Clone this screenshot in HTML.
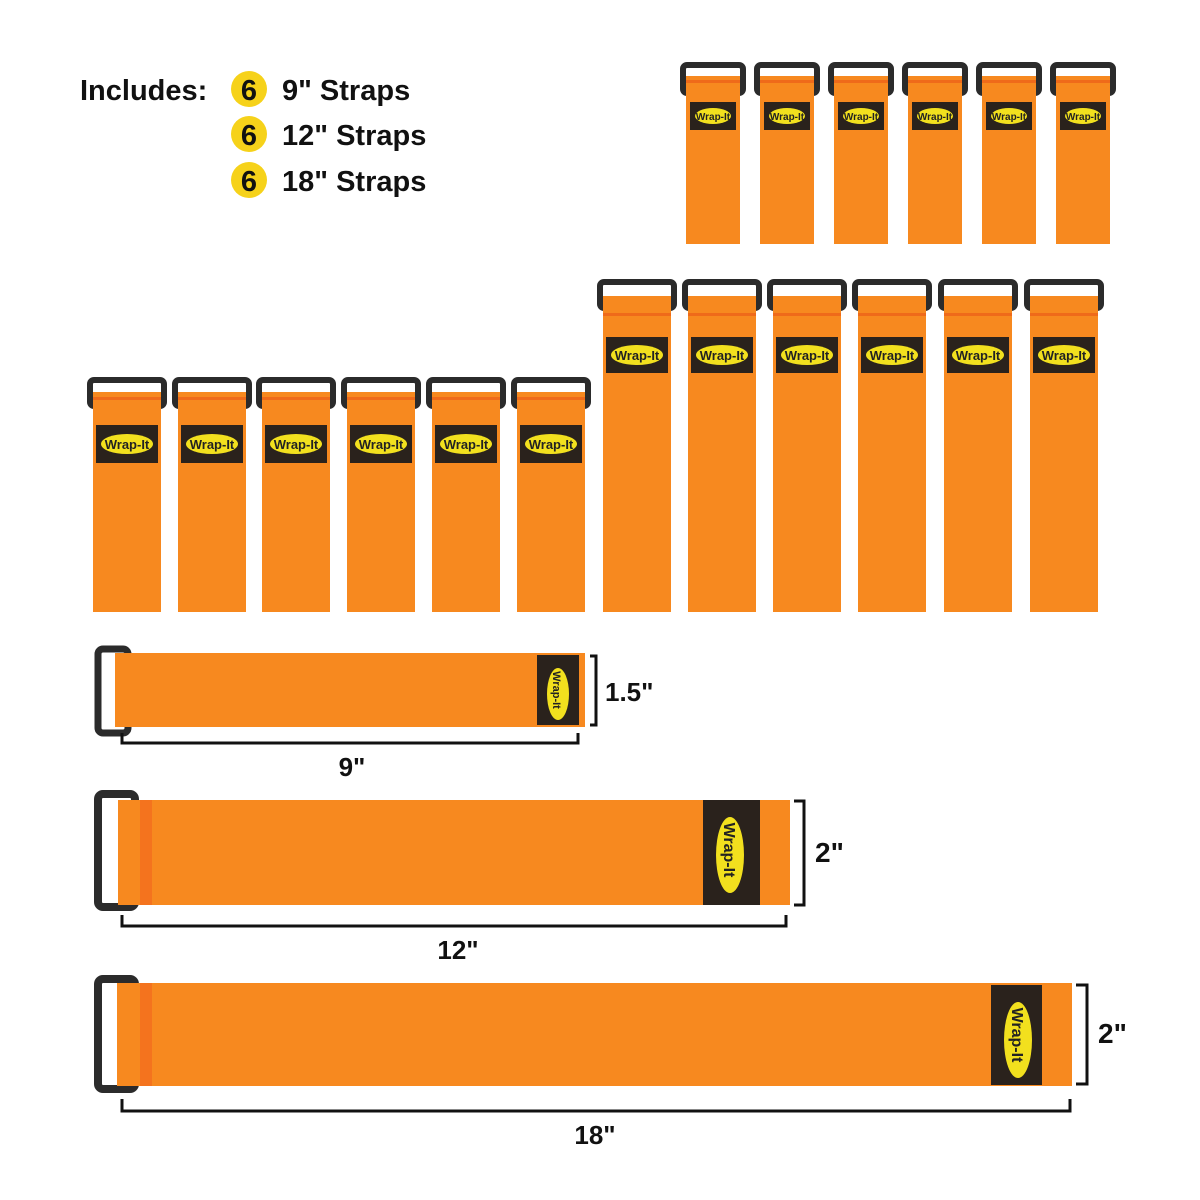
<!DOCTYPE html>
<html><head><meta charset="utf-8"><style>
html,body{margin:0;padding:0;background:#fff}
svg{display:block}
text{font-family:"Liberation Sans",Arial,sans-serif;font-weight:bold}
</style></head><body>
<svg width="1200" height="1200" viewBox="0 0 1200 1200" xmlns="http://www.w3.org/2000/svg">
<rect width="1200" height="1200" fill="#fff"/>
<!-- header -->
<text x="80" y="100" font-size="29" fill="#111">Includes:</text>
<circle cx="249" cy="89" r="18" fill="#f6d21a"/><text x="249" y="100" font-size="29" fill="#111" text-anchor="middle">6</text>
<circle cx="249" cy="134" r="18" fill="#f6d21a"/><text x="249" y="145" font-size="29" fill="#111" text-anchor="middle">6</text>
<circle cx="249" cy="180" r="18" fill="#f6d21a"/><text x="249" y="191" font-size="29" fill="#111" text-anchor="middle">6</text>
<text x="282" y="100" font-size="29" fill="#111">9" Straps</text>
<text x="282" y="145" font-size="29" fill="#111">12" Straps</text>
<text x="282" y="191" font-size="29" fill="#111">18" Straps</text>

<!-- top row small straps -->
<g id="top">
<g transform="translate(686,0)"><rect x="-3" y="65" width="60" height="28" rx="4" fill="none" stroke="#2b2b2b" stroke-width="6"/><rect x="0" y="76" width="54" height="168" fill="#f7891f"/><rect x="0" y="80" width="54" height="3" fill="#ef6a1a"/><rect x="4" y="102" width="46" height="28" fill="#2a221c"/><ellipse cx="27" cy="116" rx="18" ry="8" fill="#f2e01e"/><text x="27" y="120" font-size="10" text-anchor="middle" fill="#222">Wrap-It</text></g>
<g transform="translate(760,0)"><rect x="-3" y="65" width="60" height="28" rx="4" fill="none" stroke="#2b2b2b" stroke-width="6"/><rect x="0" y="76" width="54" height="168" fill="#f7891f"/><rect x="0" y="80" width="54" height="3" fill="#ef6a1a"/><rect x="4" y="102" width="46" height="28" fill="#2a221c"/><ellipse cx="27" cy="116" rx="18" ry="8" fill="#f2e01e"/><text x="27" y="120" font-size="10" text-anchor="middle" fill="#222">Wrap-It</text></g>
<g transform="translate(834,0)"><rect x="-3" y="65" width="60" height="28" rx="4" fill="none" stroke="#2b2b2b" stroke-width="6"/><rect x="0" y="76" width="54" height="168" fill="#f7891f"/><rect x="0" y="80" width="54" height="3" fill="#ef6a1a"/><rect x="4" y="102" width="46" height="28" fill="#2a221c"/><ellipse cx="27" cy="116" rx="18" ry="8" fill="#f2e01e"/><text x="27" y="120" font-size="10" text-anchor="middle" fill="#222">Wrap-It</text></g>
<g transform="translate(908,0)"><rect x="-3" y="65" width="60" height="28" rx="4" fill="none" stroke="#2b2b2b" stroke-width="6"/><rect x="0" y="76" width="54" height="168" fill="#f7891f"/><rect x="0" y="80" width="54" height="3" fill="#ef6a1a"/><rect x="4" y="102" width="46" height="28" fill="#2a221c"/><ellipse cx="27" cy="116" rx="18" ry="8" fill="#f2e01e"/><text x="27" y="120" font-size="10" text-anchor="middle" fill="#222">Wrap-It</text></g>
<g transform="translate(982,0)"><rect x="-3" y="65" width="60" height="28" rx="4" fill="none" stroke="#2b2b2b" stroke-width="6"/><rect x="0" y="76" width="54" height="168" fill="#f7891f"/><rect x="0" y="80" width="54" height="3" fill="#ef6a1a"/><rect x="4" y="102" width="46" height="28" fill="#2a221c"/><ellipse cx="27" cy="116" rx="18" ry="8" fill="#f2e01e"/><text x="27" y="120" font-size="10" text-anchor="middle" fill="#222">Wrap-It</text></g>
<g transform="translate(1056,0)"><rect x="-3" y="65" width="60" height="28" rx="4" fill="none" stroke="#2b2b2b" stroke-width="6"/><rect x="0" y="76" width="54" height="168" fill="#f7891f"/><rect x="0" y="80" width="54" height="3" fill="#ef6a1a"/><rect x="4" y="102" width="46" height="28" fill="#2a221c"/><ellipse cx="27" cy="116" rx="18" ry="8" fill="#f2e01e"/><text x="27" y="120" font-size="10" text-anchor="middle" fill="#222">Wrap-It</text></g>
</g>

<!-- middle-left row -->
<g transform="translate(93,0)"><rect x="-3" y="380" width="74" height="26" rx="4" fill="none" stroke="#2b2b2b" stroke-width="6"/><rect x="0" y="392" width="68" height="220" fill="#f7891f"/><rect x="0" y="397" width="68" height="3" fill="#ef6a1a"/><rect x="3" y="425" width="62" height="38" fill="#2a221c"/><ellipse cx="34" cy="444" rx="26" ry="10" fill="#f2e01e"/><text x="34" y="449" font-size="13" text-anchor="middle" fill="#222">Wrap-It</text></g>
<g transform="translate(178,0)"><rect x="-3" y="380" width="74" height="26" rx="4" fill="none" stroke="#2b2b2b" stroke-width="6"/><rect x="0" y="392" width="68" height="220" fill="#f7891f"/><rect x="0" y="397" width="68" height="3" fill="#ef6a1a"/><rect x="3" y="425" width="62" height="38" fill="#2a221c"/><ellipse cx="34" cy="444" rx="26" ry="10" fill="#f2e01e"/><text x="34" y="449" font-size="13" text-anchor="middle" fill="#222">Wrap-It</text></g>
<g transform="translate(262,0)"><rect x="-3" y="380" width="74" height="26" rx="4" fill="none" stroke="#2b2b2b" stroke-width="6"/><rect x="0" y="392" width="68" height="220" fill="#f7891f"/><rect x="0" y="397" width="68" height="3" fill="#ef6a1a"/><rect x="3" y="425" width="62" height="38" fill="#2a221c"/><ellipse cx="34" cy="444" rx="26" ry="10" fill="#f2e01e"/><text x="34" y="449" font-size="13" text-anchor="middle" fill="#222">Wrap-It</text></g>
<g transform="translate(347,0)"><rect x="-3" y="380" width="74" height="26" rx="4" fill="none" stroke="#2b2b2b" stroke-width="6"/><rect x="0" y="392" width="68" height="220" fill="#f7891f"/><rect x="0" y="397" width="68" height="3" fill="#ef6a1a"/><rect x="3" y="425" width="62" height="38" fill="#2a221c"/><ellipse cx="34" cy="444" rx="26" ry="10" fill="#f2e01e"/><text x="34" y="449" font-size="13" text-anchor="middle" fill="#222">Wrap-It</text></g>
<g transform="translate(432,0)"><rect x="-3" y="380" width="74" height="26" rx="4" fill="none" stroke="#2b2b2b" stroke-width="6"/><rect x="0" y="392" width="68" height="220" fill="#f7891f"/><rect x="0" y="397" width="68" height="3" fill="#ef6a1a"/><rect x="3" y="425" width="62" height="38" fill="#2a221c"/><ellipse cx="34" cy="444" rx="26" ry="10" fill="#f2e01e"/><text x="34" y="449" font-size="13" text-anchor="middle" fill="#222">Wrap-It</text></g>
<g transform="translate(517,0)"><rect x="-3" y="380" width="74" height="26" rx="4" fill="none" stroke="#2b2b2b" stroke-width="6"/><rect x="0" y="392" width="68" height="220" fill="#f7891f"/><rect x="0" y="397" width="68" height="3" fill="#ef6a1a"/><rect x="3" y="425" width="62" height="38" fill="#2a221c"/><ellipse cx="34" cy="444" rx="26" ry="10" fill="#f2e01e"/><text x="34" y="449" font-size="13" text-anchor="middle" fill="#222">Wrap-It</text></g>

<!-- right row tall -->
<g transform="translate(603,0)"><rect x="-3" y="282" width="74" height="26" rx="4" fill="none" stroke="#2b2b2b" stroke-width="6"/><rect x="0" y="296" width="68" height="316" fill="#f7891f"/><rect x="0" y="313" width="68" height="3" fill="#ef6a1a"/><rect x="3" y="337" width="62" height="36" fill="#2a221c"/><ellipse cx="34" cy="355" rx="26" ry="10" fill="#f2e01e"/><text x="34" y="360" font-size="13" text-anchor="middle" fill="#222">Wrap-It</text></g>
<g transform="translate(688,0)"><rect x="-3" y="282" width="74" height="26" rx="4" fill="none" stroke="#2b2b2b" stroke-width="6"/><rect x="0" y="296" width="68" height="316" fill="#f7891f"/><rect x="0" y="313" width="68" height="3" fill="#ef6a1a"/><rect x="3" y="337" width="62" height="36" fill="#2a221c"/><ellipse cx="34" cy="355" rx="26" ry="10" fill="#f2e01e"/><text x="34" y="360" font-size="13" text-anchor="middle" fill="#222">Wrap-It</text></g>
<g transform="translate(773,0)"><rect x="-3" y="282" width="74" height="26" rx="4" fill="none" stroke="#2b2b2b" stroke-width="6"/><rect x="0" y="296" width="68" height="316" fill="#f7891f"/><rect x="0" y="313" width="68" height="3" fill="#ef6a1a"/><rect x="3" y="337" width="62" height="36" fill="#2a221c"/><ellipse cx="34" cy="355" rx="26" ry="10" fill="#f2e01e"/><text x="34" y="360" font-size="13" text-anchor="middle" fill="#222">Wrap-It</text></g>
<g transform="translate(858,0)"><rect x="-3" y="282" width="74" height="26" rx="4" fill="none" stroke="#2b2b2b" stroke-width="6"/><rect x="0" y="296" width="68" height="316" fill="#f7891f"/><rect x="0" y="313" width="68" height="3" fill="#ef6a1a"/><rect x="3" y="337" width="62" height="36" fill="#2a221c"/><ellipse cx="34" cy="355" rx="26" ry="10" fill="#f2e01e"/><text x="34" y="360" font-size="13" text-anchor="middle" fill="#222">Wrap-It</text></g>
<g transform="translate(944,0)"><rect x="-3" y="282" width="74" height="26" rx="4" fill="none" stroke="#2b2b2b" stroke-width="6"/><rect x="0" y="296" width="68" height="316" fill="#f7891f"/><rect x="0" y="313" width="68" height="3" fill="#ef6a1a"/><rect x="3" y="337" width="62" height="36" fill="#2a221c"/><ellipse cx="34" cy="355" rx="26" ry="10" fill="#f2e01e"/><text x="34" y="360" font-size="13" text-anchor="middle" fill="#222">Wrap-It</text></g>
<g transform="translate(1030,0)"><rect x="-3" y="282" width="74" height="26" rx="4" fill="none" stroke="#2b2b2b" stroke-width="6"/><rect x="0" y="296" width="68" height="316" fill="#f7891f"/><rect x="0" y="313" width="68" height="3" fill="#ef6a1a"/><rect x="3" y="337" width="62" height="36" fill="#2a221c"/><ellipse cx="34" cy="355" rx="26" ry="10" fill="#f2e01e"/><text x="34" y="360" font-size="13" text-anchor="middle" fill="#222">Wrap-It</text></g>

<!-- horizontal 9" -->
<rect x="98" y="649" width="30" height="84" rx="5" fill="none" stroke="#2b2b2b" stroke-width="7"/>
<rect x="115" y="653" width="470" height="74" fill="#f7891f"/>
<rect x="537" y="655" width="42" height="70" fill="#2a221c"/>
<ellipse cx="558" cy="694" rx="11" ry="26" fill="#f2e01e"/>
<text transform="translate(553,690) rotate(90)" x="0" y="0" font-size="11" text-anchor="middle" fill="#222">Wrap-It</text>
<path d="M590 656 H596 V725 H590" fill="none" stroke="#111" stroke-width="3"/>
<text x="605" y="701" font-size="26" fill="#111">1.5"</text>
<path d="M122 733 V743 H578 V733" fill="none" stroke="#111" stroke-width="3"/>
<text x="352" y="776" font-size="26" fill="#111" text-anchor="middle">9"</text>

<!-- horizontal 12" -->
<rect x="98" y="794" width="37" height="113" rx="5" fill="none" stroke="#2b2b2b" stroke-width="8"/>
<rect x="118" y="800" width="672" height="105" fill="#f7891f"/>
<rect x="140" y="800" width="12" height="105" fill="#f2641e" opacity="0.6"/>
<rect x="703" y="800" width="57" height="105" fill="#2a221c"/>
<ellipse cx="730" cy="855" rx="14" ry="38" fill="#f2e01e"/>
<text transform="translate(724,850) rotate(90)" x="0" y="0" font-size="16" text-anchor="middle" fill="#222">Wrap-It</text>
<path d="M794 801 H804 V905 H794" fill="none" stroke="#111" stroke-width="3"/>
<text x="815" y="862" font-size="28" fill="#111">2"</text>
<path d="M122 915 V926 H786 V915" fill="none" stroke="#111" stroke-width="3"/>
<text x="458" y="959" font-size="26" fill="#111" text-anchor="middle">12"</text>

<!-- horizontal 18" -->
<rect x="98" y="979" width="37" height="110" rx="5" fill="none" stroke="#2b2b2b" stroke-width="8"/>
<rect x="117" y="983" width="955" height="103" fill="#f7891f"/>
<rect x="140" y="983" width="12" height="103" fill="#f2641e" opacity="0.6"/>
<rect x="991" y="985" width="51" height="100" fill="#2a221c"/>
<ellipse cx="1018" cy="1040" rx="14" ry="38" fill="#f2e01e"/>
<text transform="translate(1012,1035) rotate(90)" x="0" y="0" font-size="16" text-anchor="middle" fill="#222">Wrap-It</text>
<path d="M1076 985 H1087 V1084 H1076" fill="none" stroke="#111" stroke-width="3"/>
<text x="1098" y="1043" font-size="28" fill="#111">2"</text>
<path d="M122 1099 V1111 H1070 V1099" fill="none" stroke="#111" stroke-width="3"/>
<text x="595" y="1144" font-size="26" fill="#111" text-anchor="middle">18"</text>
</svg>
</body></html>
